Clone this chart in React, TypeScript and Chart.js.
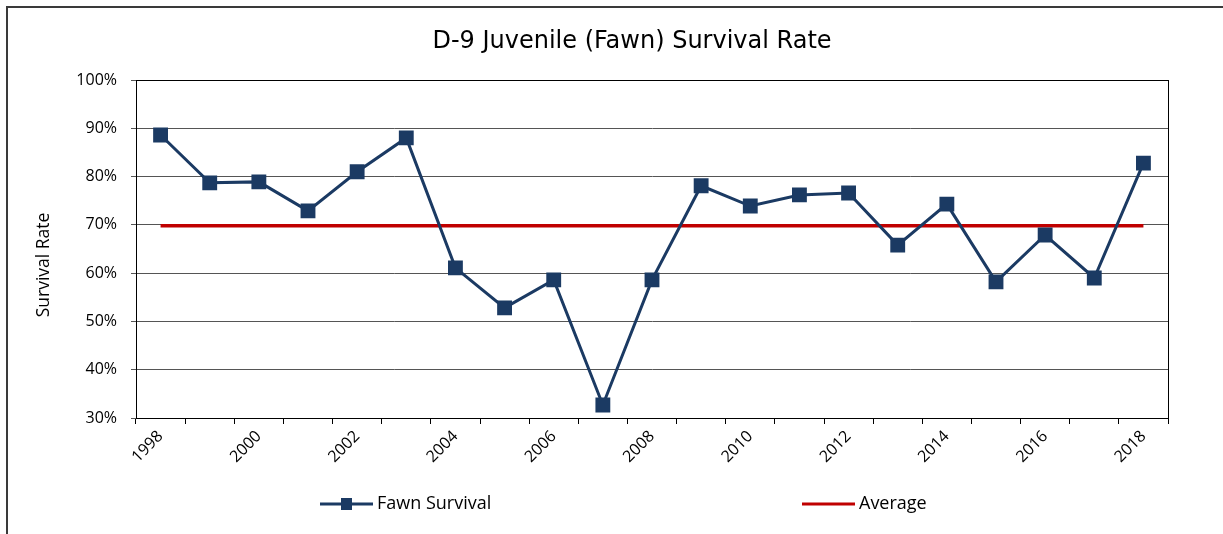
import React, { useEffect, useRef } from "react";
import { Chart, registerables } from "chart.js";

Chart.register(...registerables);

const years: string[] = [
  "1998", "1999", "2000", "2001", "2002", "2003", "2004", "2005", "2006", "2007",
  "2008", "2009", "2010", "2011", "2012", "2013", "2014", "2015", "2016", "2017", "2018",
];
const fawnSurvival: number[] = [
  88.6, 78.7, 78.9, 72.9, 81.0, 88.0, 61.1, 52.8, 58.6, 32.7,
  58.6, 78.1, 73.9, 76.2, 76.6, 65.8, 74.3, 58.2, 67.9, 59.0, 82.8,
];
const averageValue = 69.8;
const averageSeries: number[] = years.map(() => averageValue);
const yTicks: number[] = [30, 40, 50, 60, 70, 80, 90, 100];

const chartTitle = "D-9 Juvenile (Fawn) Survival Rate";
const yAxisTitle = "Survival Rate";
const seriesNames = ["Fawn Survival", "Average"];

const NAVY = "#1B3A63";
const RED = "#C00000";
const FONT = "'Open Sans', sans-serif";
const TITLE_FONT = "'DejaVu Sans', sans-serif";

const framePlugin = {
  id: "framePlugin",
  beforeDraw(chart: any) {
    const ctx = chart.ctx;
    ctx.save();
    ctx.fillStyle = "#ffffff";
    ctx.fillRect(0, 0, chart.width, chart.height);
    ctx.strokeStyle = "#3a3a3a";
    ctx.lineWidth = 2;
    ctx.strokeRect(7, 7, chart.width + 50, chart.height + 50);
    ctx.restore();
  },
  afterDraw(chart: any) {
    const ctx = chart.ctx;
    const a = chart.chartArea;
    ctx.save();
    // plot frame
    ctx.strokeStyle = "#000000";
    ctx.lineWidth = 1;
    ctx.strokeRect(Math.round(a.left) + 0.5, Math.round(a.top) + 0.5, Math.round(a.right - a.left), Math.round(a.bottom - a.top));
    // chart title
    ctx.fillStyle = "#000000";
    ctx.font = `24px ${TITLE_FONT}`;
    ctx.textAlign = "center";
    ctx.textBaseline = "middle";
    ctx.fillText(chartTitle, 632, 42);
    // y axis title
    ctx.font = `17.5px ${FONT}`;
    ctx.translate(44, 265);
    ctx.rotate(-Math.PI / 2);
    ctx.fillText(yAxisTitle, 0, 0);
    ctx.restore();

    // legend
    ctx.save();
    const ly = 504;
    ctx.lineWidth = 3;
    ctx.strokeStyle = NAVY;
    ctx.beginPath();
    ctx.moveTo(320, ly);
    ctx.lineTo(373, ly);
    ctx.stroke();
    ctx.fillStyle = NAVY;
    ctx.fillRect(341, ly - 6, 11, 12);
    ctx.strokeStyle = RED;
    ctx.lineWidth = 3;
    ctx.beginPath();
    ctx.moveTo(802, ly);
    ctx.lineTo(855, ly);
    ctx.stroke();
    ctx.fillStyle = "#000000";
    ctx.font = `18px ${FONT}`;
    ctx.textAlign = "left";
    ctx.textBaseline = "middle";
    ctx.fillText(seriesNames[0], 377, ly);
    ctx.fillText(seriesNames[1], 859, ly);
    ctx.restore();
  },
};

export default function App() {
  const ref = useRef<HTMLCanvasElement | null>(null);

  useEffect(() => {
    if (!ref.current) return;
    const chart = new Chart(ref.current, {
      type: "line",
      data: {
        labels: years,
        datasets: [
          {
            label: seriesNames[1],
            data: averageSeries,
            borderColor: RED,
            backgroundColor: RED,
            borderWidth: 3.5,
            pointRadius: 0,
            pointHoverRadius: 0,
            fill: false,
            order: 2,
          },
          {
            label: seriesNames[0],
            data: fawnSurvival,
            borderColor: NAVY,
            backgroundColor: NAVY,
            borderWidth: 3,
            pointStyle: "rect",
            pointRadius: 10.5,
            pointBorderWidth: 0,
            pointBackgroundColor: NAVY,
            pointBorderColor: NAVY,
            fill: false,
            order: 1,
          },
        ],
      },
      options: {
        animation: false,
        responsive: false,
        maintainAspectRatio: false,
        layout: { padding: { left: 0, right: 55, top: 80, bottom: 0 } },
        plugins: {
          legend: { display: false },
          tooltip: { enabled: false },
          title: { display: false },
        },
        scales: {
          x: {
            type: "category",
            offset: true,
            afterFit(scale: any) {
              scale.height = 116;
            },
            grid: {
              offset: true,
              drawOnChartArea: false,
              drawTicks: true,
              tickLength: 6,
              color: "#000000",
            },
            border: { display: true, color: "#000000", width: 1 },
            ticks: {
              autoSkip: false,
              maxRotation: 45,
              minRotation: 45,
              padding: 3,
              color: "#000000",
              font: { family: FONT, size: 16 },
              callback: (_v: any, i: number) => (i % 2 === 0 ? years[i] : ""),
            },
          },
          y: {
            min: 30,
            max: 100,
            afterFit(scale: any) {
              scale.width = 136;
            },
            afterBuildTicks(scale: any) {
              scale.ticks = yTicks.map((v) => ({ value: v }));
            },
            grid: {
              color: "#555555",
              lineWidth: 1,
              drawTicks: true,
              tickLength: 5,
            },
            border: { display: true, color: "#000000", width: 1 },
            ticks: {
              padding: 14,
              color: "#000000",
              font: { family: FONT, size: 16 },
              callback: (v: any) => `${v}%`,
            },
          },
        },
      },
      plugins: [framePlugin],
    });
    return () => chart.destroy();
  }, []);

  return (
    <div style={{ position: "fixed", left: 0, top: 0, width: 1223, height: 534, background: "#fff" }}>
      <canvas ref={ref} width={1223} height={534} style={{ display: "block", width: 1223, height: 534 }} />
    </div>
  );
}
